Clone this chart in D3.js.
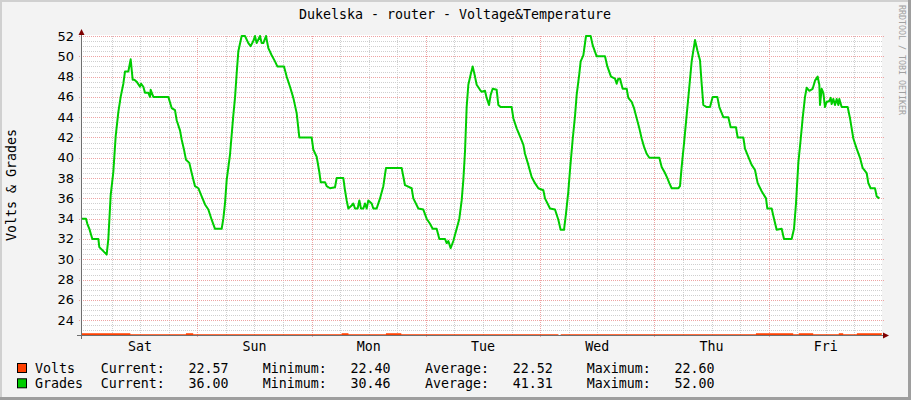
<!DOCTYPE html>
<html>
<head>
<meta charset="utf-8">
<script src="https://cdnjs.cloudflare.com/ajax/libs/d3/7.8.5/d3.min.js"></script>
<style>
  body { margin: 0; background: #f3f3f3; }
  svg { display: block; }
  text { font-family: "DejaVu Sans Mono", monospace; fill: #000; }
</style>
</head>
<body>
<div id="chart"></div>
<script>
// hours since the left edge of the graph (one week)
let gradesHours = [0, 1.05, 1.33, 1.75, 2.38, 3.64, 3.85, 4.69, 5.39, 5.74, 6.23, 6.79, 7.28, 7.84, 8.33, 8.89, 9.24, 9.94,
  10.43, 10.85, 11.2, 11.69, 12.39, 12.6, 13.09, 13.44, 14.14, 14.49, 14.63, 15.19, 18.34, 19.04, 19.74, 20.09, 20.79,
  21.14, 21.63, 22.05, 22.75, 23.24, 23.94, 24.64, 25.34, 26.04, 26.74, 27.44, 28.14, 29.54, 29.89, 30.24, 30.59, 31.29,
  31.99, 32.34, 32.69, 33.04, 33.74, 34.44, 35.14, 35.63, 36.19, 36.54, 36.89, 37.59, 37.94, 38.29, 38.85, 39.34, 40.04,
  40.74, 41.23, 42.63, 43.19, 43.89, 44.59, 45.29, 45.85, 48.44, 48.79, 49.49, 50.05, 50.33, 51.24, 51.59, 52.29, 53.34,
  53.69, 55.09, 55.44, 55.79, 56.14, 56.84, 57.19, 57.54, 58.1, 58.45, 58.8, 59.29, 59.64, 59.99, 60.34, 61.04, 61.39,
  62.09, 62.79, 63.49, 64.05, 67.34, 68.04, 69.44, 69.79, 70.84, 71.89, 72.59, 73.29, 73.85, 74.69, 75.25, 76.44, 76.79,
  77.14, 77.63, 78.19, 78.89, 79.45, 79.94, 80.29, 80.64, 80.99, 81.34, 81.83, 82.25, 82.74, 83.09, 83.79,
  84.14, 84.84, 85.19, 85.68, 86.03, 86.45, 87.29, 87.64, 88.13, 90.44, 90.79, 91.49, 92.19, 92.89, 93.24, 93.94, 94.64,
  95.34, 96.04, 97.09, 97.44, 98.49, 99.54, 100.24, 100.73, 101.43, 101.85, 102.34, 102.69, 103.25, 103.74, 104.09,
  104.65, 104.93, 105.49, 106.05, 107.03, 107.45, 108.29, 110.04, 110.53, 111.3, 112.14, 112.49, 112.84, 113.19, 113.75,
  114.59, 114.94, 115.64, 116.13, 116.69, 117.25, 117.74, 118.23, 118.79, 119.35, 121.45, 121.94, 122.64, 123.13, 123.55,
  124.04, 125.44, 125.79, 126.14, 126.63, 127.19, 127.75, 128.24, 128.94, 129.43, 129.99, 130.34, 130.69, 131.39, 132.09,
  132.65, 133.63, 134.05, 134.89, 135.94, 136.43, 137.55, 137.9, 139.09, 139.44, 140.14, 140.84, 141.54, 142.1, 142.94,
  143.85, 144.13, 145.04, 145.53, 146.09, 147.14, 147.63, 149.24, 149.73, 150.15, 150.64, 151.13, 151.55, 152.04, 152.39,
  152.95, 153.65, 154.14, 154.7, 155.05, 155.19, 155.54, 155.89, 156.24, 156.59, 157.15, 157.43, 157.64, 157.99, 158.34,
  158.69, 159.04, 159.25, 159.74, 161.0, 161.49, 161.84, 162.19, 162.89, 163.59, 164.15, 164.99, 165.34, 165.83, 166.74,
  167.09, 167.65];
let gradesValues = [34, 34, 33.5, 33, 32, 32, 31.2, 30.8, 30.46, 32, 36.3, 38.6, 42.1, 44.5, 46, 47.3, 48.5, 48.5,
  49.7, 47.7, 47.7, 47.5, 47, 47.3, 47, 46.4, 46.4, 46, 46.7, 46, 46, 44.9, 44.7, 43.7, 42.7,
  41.8, 40.8, 39.8, 39.5, 38.5, 37.2, 37, 36.2, 35.4, 34.9, 33.9, 33, 33, 34, 35.5, 37.8, 40.3,
  44.2, 45.9, 48.3, 50.5, 52, 52, 51.3, 51, 51.5, 52, 51.3, 52, 51.3, 51.3, 52, 50.8, 50.1,
  49.5, 49, 49, 48, 47, 45.9, 44.4, 42, 42, 40.8, 40.1, 38.6, 37.6, 37.6, 37.2, 37, 37.1,
  38, 38, 36.8, 35.8, 35, 35.3, 35.5, 35, 35, 35.8, 35, 35, 35.5, 35, 35.8, 35.5, 35,
  35, 36, 37.2, 39, 39, 37.3, 37, 36, 35, 34.9, 34, 33.5, 33, 33, 32, 32, 31.6,
  31.8, 31.1, 31.8, 33, 34, 35.8, 37.8, 40.6, 45, 47.2, 48.2, 49, 48, 47.2, 46.7,
  46.5, 46.6, 45.9, 45.2, 46.2, 46.8, 46.7, 45.2, 45, 45, 43.9, 42.9, 42.1, 41.3, 40.4, 39.3, 38.1,
  37.5, 37, 36.8, 36, 35, 34.9, 33.9, 32.9, 32.9, 34.5, 36.7, 38.8, 41.8, 44.1, 46.2,
  48.3, 49.5, 50.1, 52, 52, 51.1, 50, 50, 49, 48, 47.8, 47.3, 47.8, 47.8, 46.8,
  46.8, 45.9, 45.5, 44.9, 43.9, 42.9, 41.9, 41.1, 40.4, 40, 40, 39.1, 38.5, 38, 37.5,
  37, 37, 37.2, 39.1, 41.4, 44.2, 47, 49.5, 51.6, 50.6, 49.6, 47.3, 45.2, 45, 45,
  46, 46, 45, 44, 44, 43, 43, 42, 42, 40.9, 40.1, 39.3, 38.8, 37.5, 36.7,
  36, 35, 35, 34, 32.9, 33, 32, 32, 33, 35.5, 39.5, 41.8, 43.9, 46, 46.9,
  46.6, 46.8, 47.6, 48, 47.2, 45.2, 46.8, 46.4, 45, 45.5, 45.6, 45.9, 45.3, 45.8, 45.2,
  45.8, 45.2, 45.8, 45, 45, 43.9, 42.9, 41.9, 40.9, 40, 39, 38.5, 37.5, 37, 37,
  36.2, 36];

let voltsHours =  [0,    10.1, 22.3, 23.3, 55.0, 55.9, 64.3, 67.0, 100.0, 101.0, 142.0, 149.3, 151.0, 153.5, 159.4, 159.8, 163.2, 168];
let voltsValues = [22.6, 22.5, 22.6, 22.5, 22.6, 22.5, 22.6, 22.5, 22.4,  22.5,  22.6,  22.5,  22.6,  22.5,  22.6,  22.5,  22.6,  22.57];

let yTicks = [24, 26, 28, 30, 32, 34, 36, 38, 40, 42, 44, 46, 48, 50, 52];

let legendNames = ["Volts", "Grades"];
let legendColors = ["#ff4000", "#00cc00"];
let currentVals = ["22.57", "36.00"];
let minimumVals = ["22.40", "30.46"];
let averageVals = ["22.52", "41.31"];
let maximumVals = ["22.60", "52.00"];

let width = 911, height = 400;
let plotLeft = 81, plotRight = 881, plotTop = 36, plotBottom = 335;

let start = new Date(2010, 11, 31, 23, 35);
let end = new Date(+start + 168 * 3600e3);

let svg = d3.select("#chart")
  .append("svg")
  .attr("width", width)
  .attr("height", height);

// frame
svg.append("rect").attr("width", width).attr("height", height).attr("fill", "#f3f3f3");
svg.append("rect").attr("x", 0).attr("y", 0).attr("width", width).attr("height", 2).attr("fill", "#d0d0d0");
svg.append("rect").attr("x", 0).attr("y", 0).attr("width", 2).attr("height", height).attr("fill", "#d0d0d0");
svg.append("rect").attr("x", 0).attr("y", height - 3).attr("width", width).attr("height", 3).attr("fill", "#9e9e9e");
svg.append("rect").attr("x", width - 3).attr("y", 0).attr("width", 3).attr("height", height).attr("fill", "#9e9e9e");

let x = d3.scaleTime().domain([start, end]).range([plotLeft, plotRight]);
let y = d3.scaleLinear().domain([22.54, 52]).range([plotBottom, plotTop]);

svg.append("rect")
  .attr("x", plotLeft).attr("y", plotTop - 1)
  .attr("width", plotRight - plotLeft + 1).attr("height", plotBottom - plotTop + 1)
  .attr("fill", "#fff");

let grid = svg.append("g").attr("shape-rendering", "crispEdges");

// minor horizontal grid every 0.5
let minorY = d3.range(23, 52, 0.5).filter(v => v % 2 !== 0);
grid.selectAll(".hmin").data(minorY).enter().append("line")
  .attr("x1", plotLeft).attr("x2", plotRight + 1)
  .attr("y1", d => Math.round(y(d)) + 0.5).attr("y2", d => Math.round(y(d)) + 0.5)
  .attr("stroke", "#cfcfcf").attr("stroke-dasharray", "1,1");

// minor vertical grid every 6 hours
let minorX = d3.timeHour.every(6).range(start, end).filter(d => d.getHours() !== 0);
grid.selectAll(".vmin").data(minorX).enter().append("line")
  .attr("x1", d => Math.round(x(d)) + 0.5).attr("x2", d => Math.round(x(d)) + 0.5)
  .attr("y1", plotTop).attr("y2", plotBottom)
  .attr("stroke", "#cfcfcf").attr("stroke-dasharray", "1,1");

// major grid
grid.selectAll(".hmaj").data(yTicks).enter().append("line")
  .attr("x1", plotLeft - 2).attr("x2", plotRight + 3)
  .attr("y1", d => Math.round(y(d)) + 0.5).attr("y2", d => Math.round(y(d)) + 0.5)
  .attr("stroke", "#eea3a3").attr("stroke-dasharray", "1,1");

let days = d3.timeDay.range(start, end).filter(d => x(d) - plotLeft > 3);
grid.selectAll(".vmaj").data(days).enter().append("line")
  .attr("x1", d => Math.round(x(d)) + 0.5).attr("x2", d => Math.round(x(d)) + 0.5)
  .attr("y1", plotTop).attr("y2", plotBottom + 2)
  .attr("stroke", "#eea3a3").attr("stroke-dasharray", "1,1");

// data
svg.append("clipPath").attr("id", "plotclip")
  .append("rect").attr("x", plotLeft).attr("y", plotTop - 2)
  .attr("width", plotRight - plotLeft + 1).attr("height", plotBottom - plotTop + 2.5);

let line = d3.line()
  .x(d => x(d.date))
  .y(d => y(d.v));

let grades = gradesHours.map((h, i) => ({ date: new Date(+start + h * 3600e3), v: gradesValues[i] }));
let volts = voltsHours.map((h, i) => ({ date: new Date(+start + h * 3600e3), v: voltsValues[i] }));

svg.append("path")
  .datum(volts)
  .attr("clip-path", "url(#plotclip)")
  .attr("fill", "none")
  .attr("stroke", legendColors[0])
  .attr("stroke-width", 2.5)
  .attr("d", line.curve(d3.curveStepAfter));

svg.append("path")
  .datum(grades)
  .attr("clip-path", "url(#plotclip)")
  .attr("fill", "none")
  .attr("stroke", legendColors[1])
  .attr("stroke-width", 2)
  .attr("stroke-linejoin", "round")
  .attr("d", line.curve(d3.curveLinear));

// axes
let axisColor = "#6e6e6e";
svg.append("line").attr("x1", plotLeft - 4).attr("x2", plotRight + 2).attr("y1", plotBottom + 0.5).attr("y2", plotBottom + 0.5)
  .attr("stroke", axisColor).attr("shape-rendering", "crispEdges");
svg.append("line").attr("x1", plotLeft + 0.5).attr("x2", plotLeft + 0.5).attr("y1", plotBottom + 4).attr("y2", plotTop - 2)
  .attr("stroke", axisColor).attr("shape-rendering", "crispEdges");
svg.append("path").attr("d", `M${plotLeft + 0.5},${plotTop - 7} L${plotLeft - 2.5},${plotTop - 1} L${plotLeft + 3.5},${plotTop - 1} Z`).attr("fill", "#7f0000");
svg.append("path").attr("d", `M${plotRight + 8},${plotBottom + 0.5} L${plotRight + 2},${plotBottom - 2.5} L${plotRight + 2},${plotBottom + 3.5} Z`).attr("fill", "#7f0000");

// y tick labels
svg.selectAll(".ylab").data(yTicks).enter().append("text")
  .attr("x", 74).attr("y", d => y(d) + 4.5)
  .attr("text-anchor", "end")
  .style("font-family", "'DejaVu Sans', sans-serif")
  .style("font-size", "13px")
  .text(d => d);

// day labels at noon
let dayFormat = d3.timeFormat("%a");
svg.selectAll(".xlab").data(d3.timeDay.range(start, end)).enter().append("text")
  .attr("x", d => x(d3.timeHour.offset(d, 12)))
  .attr("y", 351)
  .attr("text-anchor", "middle")
  .style("font-size", "13.3px")
  .text(d => dayFormat(d));

// title and axis label
svg.append("text").attr("x", 455).attr("y", 19).attr("text-anchor", "middle")
  .style("font-size", "13.3px")
  .text("Dukelska - router - Voltage&Temperature");

svg.append("text").attr("transform", "translate(16,185) rotate(-90)").attr("text-anchor", "middle")
  .style("font-size", "13.3px")
  .text("Volts & Grades");

svg.append("text").attr("transform", "translate(899,5) rotate(90)")
  .style("font-size", "8.3px").style("fill", "#a0a0a0")
  .text("RRDTOOL / TOBI OETIKER");

// legend
let legend = svg.selectAll(".legend").data(legendNames).enter().append("g")
  .attr("transform", (d, i) => `translate(0,${373 + i * 15.3})`);

legend.append("rect").attr("x", 17.5).attr("y", -9.5).attr("width", 9).attr("height", 9)
  .attr("fill", (d, i) => legendColors[i]).attr("stroke", "#000");
legend.append("text").attr("x", 35).style("font-size", "13.3px").text(d => d);

let cols = [
  { label: "Current:", vals: currentVals, lx: 100.7, vx: 228.5 },
  { label: "Minimum:", vals: minimumVals, lx: 262.7, vx: 390.5 },
  { label: "Average:", vals: averageVals, lx: 425, vx: 552.7 },
  { label: "Maximum:", vals: maximumVals, lx: 586.7, vx: 714.5 }
];
cols.forEach(c => {
  legend.append("text").attr("x", c.lx).style("font-size", "13.3px").text(c.label);
  legend.append("text").attr("x", c.vx).attr("text-anchor", "end").style("font-size", "13.3px")
    .text((d, i) => c.vals[i]);
});
</script>
</body>
</html>
